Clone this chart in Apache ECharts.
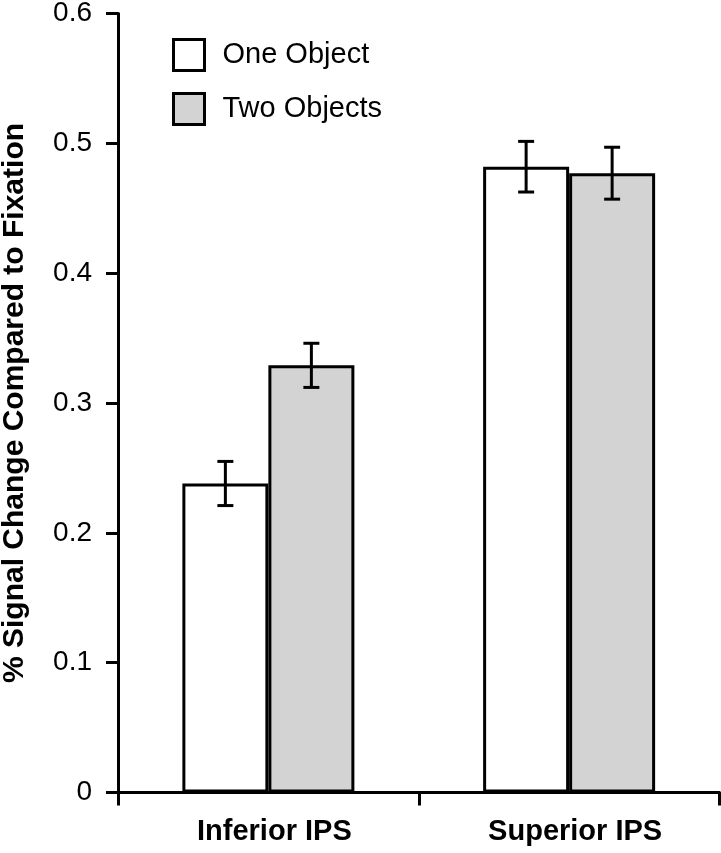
<!DOCTYPE html>
<html>
<head>
<meta charset="utf-8">
<script src="https://cdn.jsdelivr.net/npm/echarts@6/dist/echarts.min.js"></script>
<style>html,body{margin:0;padding:0;background:#fff}#c{width:721px;height:853px}</style>
</head>
<body>
<div id="c"></div>
<script>
const categories = ['Inferior IPS', 'Superior IPS'];
const seriesNames = ['One Object', 'Two Objects'];
const oneObject = [0.238, 0.482];
const twoObjects = [0.329, 0.477];
const oneObjectErr = [0.017, 0.0195];
const twoObjectsErr = [0.017, 0.020];
const yTicks = [0, 0.1, 0.2, 0.3, 0.4, 0.5, 0.6];
const yTitle = '% Signal Change Compared to Fixation';

const FONT = 'Liberation Sans, Arial, Helvetica, sans-serif';
const BAR_W = 86;

function errSeries(vals, errs, offset) {
  return {
    type: 'custom',
    silent: true,
    z: 5,
    data: vals.map((v, i) => [i, v, errs[i]]),
    renderItem: function (params, api) {
      const i = api.value(0), v = api.value(1), e = api.value(2);
      const top = api.coord([i, v + e]);
      const bot = api.coord([i, v - e]);
      const x = top[0] + offset;
      const cap = 8;
      const st = { stroke: '#000', lineWidth: 3 };
      return {
        type: 'group',
        children: [
          { type: 'line', shape: { x1: x, y1: top[1], x2: x, y2: bot[1] }, style: st },
          { type: 'line', shape: { x1: x - cap, y1: top[1], x2: x + cap, y2: top[1] }, style: st },
          { type: 'line', shape: { x1: x - cap, y1: bot[1], x2: x + cap, y2: bot[1] }, style: st }
        ]
      };
    }
  };
}

const chart = echarts.init(document.getElementById('c'), null, { renderer: 'canvas' });
chart.setOption({
  backgroundColor: '#fff',
  animation: false,
  textStyle: { fontFamily: FONT },
  grid: { left: 118, right: 1.5, top: 13.5, bottom: 60.5, containLabel: false, outerBoundsMode: 'none' },
  legend: {
    orient: 'vertical',
    left: 167,
    top: 33,
    itemWidth: 31,
    itemHeight: 31,
    itemGap: 20,
    icon: 'rect',
    data: seriesNames,
    itemStyle: { borderColor: '#000', borderWidth: 3 },
    textStyle: { fontFamily: FONT, fontSize: 29, lineHeight: 31, color: '#000', padding: [0, 0, 0, 13] },
    selectedMode: false
  },
  xAxis: {
    type: 'category',
    data: categories,
    boundaryGap: true,
    axisLine: { lineStyle: { color: '#000', width: 3 } },
    axisTick: { show: true, length: 13, lineStyle: { color: '#000', width: 3 } },
    axisLabel: { fontFamily: FONT, fontSize: 29, fontWeight: 'bold', color: '#000', margin: 25, padding: [0, 0, 0, 12] },
    splitLine: { show: false }
  },
  yAxis: {
    type: 'value',
    min: yTicks[0],
    max: yTicks[yTicks.length - 1],
    interval: 0.1,
    name: yTitle,
    nameLocation: 'middle',
    nameGap: 88,
    nameTextStyle: { fontFamily: FONT, fontSize: 30, fontWeight: 'bold', color: '#000' },
    axisLine: { show: true, lineStyle: { color: '#000', width: 3 } },
    axisTick: { show: true, length: 12, lineStyle: { color: '#000', width: 3 } },
    axisLabel: {
      fontFamily: FONT, fontSize: 28, color: '#000', margin: 26,
      formatter: v => String(Math.round(v * 10) / 10)
    },
    splitLine: { show: false }
  },
  series: [
    {
      name: seriesNames[0], type: 'bar', data: oneObject, barWidth: BAR_W, barGap: '0%',
      itemStyle: { color: '#ffffff', borderColor: '#000', borderWidth: 3 }
    },
    {
      name: seriesNames[1], type: 'bar', data: twoObjects, barWidth: BAR_W, barGap: '0%',
      itemStyle: { color: '#d3d3d3', borderColor: '#000', borderWidth: 3 }
    },
    errSeries(oneObject, oneObjectErr, -BAR_W / 2),
    errSeries(twoObjects, twoObjectsErr, BAR_W / 2)
  ]
});
</script>
</body>
</html>
